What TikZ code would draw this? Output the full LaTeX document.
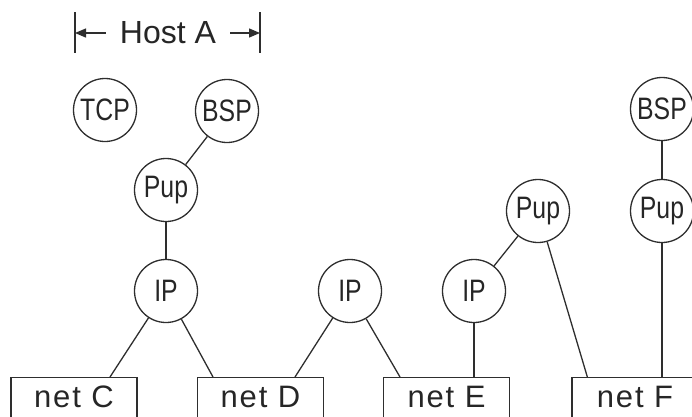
\documentclass[tikz,border=0pt]{standalone}
\usepackage{fontspec}
\usepackage{graphicx}
\setmainfont{Liberation Sans}
\newfontfamily\netfont{Liberation Sans}[LetterSpace=6]
\newcommand{\squeeze}[1]{\scalebox{0.8}[1]{#1}}
\usetikzlibrary{arrows.meta,calc}
\begin{document}
\begin{tikzpicture}[x=1pt,y=-1pt,
  ink/.style={draw=black!82, line width=1.3pt},
  proto/.style={circle, ink, minimum size=63pt, inner sep=0pt,
    text=black!85, font=\fontsize{31}{31}\selectfont},
  netbox/.style={rectangle, ink, anchor=north, minimum width=126pt,
    inner ysep=8pt, text height=22pt, text depth=40pt,
    text=black!85, font=\netfont\fontsize{31}{31}\selectfont},
  link/.style={ink},
  bracket/.style={ink, -{Triangle[length=11pt,width=9pt]}}]
\useasboundingbox (0,0) rectangle (692,416);
\clip (0,0) rectangle (692,416);

% extent of host A
\node[text=black!85, font=\fontsize{32}{32}\selectfont, inner xsep=14pt, inner ysep=0pt] (host) at (168,33) {Host A};
\coordinate (barL) at (75,33);
\coordinate (barR) at (260,33);
\draw[ink] ($(barL)+(0,-21)$) -- ($(barL)+(0,20)$);
\draw[ink] ($(barR)+(0,-21)$) -- ($(barR)+(0,20)$);
\draw[bracket] (host.west) -- (barL);
\draw[bracket] (host.east) -- (barR);

% protocol modules
\node[proto] (tcpA) at (105,110) {\squeeze{TCP}};
\node[proto] (bspA) at (227,111) {\squeeze{BSP}};
\node[proto] (pupA) at (166,190) {\squeeze{Pup}};
\node[proto] (ipA)  at (166,291) {\squeeze{IP}};
\node[proto] (ipM)  at (350,291) {\squeeze{IP}};
\node[proto] (ipR)  at (474,291) {\squeeze{IP}};
\node[proto] (pupR) at (538,211) {\squeeze{Pup}};
\node[proto] (pupF) at (662,211) {\squeeze{Pup}};
\node[proto] (bspF) at (662,109) {\squeeze{BSP}};

% networks
\node[netbox] (netC) at (74,377) {net C};
\node[netbox] (netD) at (260.5,377) {net D};
\node[netbox] (netE) at (446.5,377) {net E};
\node[netbox] (netF) at (635,377) {net F};

% connections
\draw[link] (bspA) -- (pupA);
\draw[link] (pupA) -- (ipA);
\draw[link] (ipA) -- ($(netC.north)+(36,0)$);
\draw[link] (ipA) -- ($(netD.north)+(-47.5,0)$);
\draw[link] (ipM) -- ($(netD.north)+(34.5,0)$);
\draw[link] (ipM) -- ($(netE.north)+(-46.5,0)$);
\draw[link] (ipR.south) -- (ipR.south |- netE.north);
\draw[link] (ipR) -- (pupR);
\draw[link] (pupR) -- ($(netF.north west)+(16,0)$);
\draw[link] (bspF) -- (pupF);
\draw[link] (pupF.south) -- (pupF.south |- netF.north);
\end{tikzpicture}
\end{document}
